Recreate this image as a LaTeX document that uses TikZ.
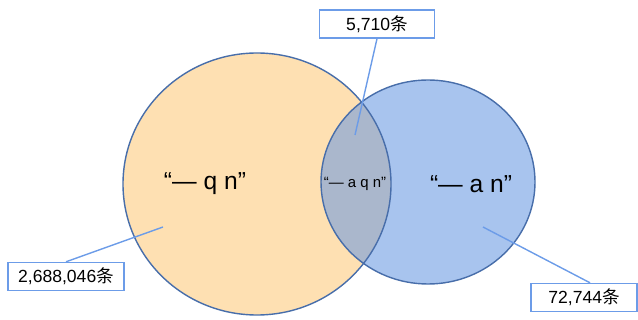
\documentclass[tikz,border=0pt]{standalone}
\usepackage{fontspec}
\setmainfont{Liberation Sans}
\newfontfamily\cjk{Noto Sans CJK SC}
\usepackage{xcolor}
\usetikzlibrary{positioning}
\definecolor{qnfill}{RGB}{254,224,178}
\definecolor{anfill}{RGB}{168,196,238}
\definecolor{bothfill}{RGB}{170,183,204}
\definecolor{rim}{RGB}{72,110,170}
\definecolor{callout}{RGB}{108,156,232}
\tikzset{
    countbox/.style={draw=callout, line width=0.8pt, fill=white, inner sep=0pt,
        minimum height=0.56cm, font=\fontsize{10}{12}\selectfont},
    bigtag/.style={font=\fontsize{14}{16}\selectfont},
}

\begin{document}
\begin{tikzpicture}[x=0.02cm, y=-0.02cm]
    \useasboundingbox (0,0) rectangle (638,320);
    % the two sets
    \fill[qnfill] (257,184) ellipse [x radius=134, y radius=131];
    \fill[anfill] (428,182) ellipse [x radius=107, y radius=102];
    \begin{scope}
        \clip (257,184) ellipse [x radius=134, y radius=131];
        \fill[bothfill] (428,182) ellipse [x radius=107, y radius=102];
    \end{scope}
    \draw[rim, line width=0.8pt] (257,184) ellipse [x radius=134, y radius=131];
    \draw[rim, line width=0.8pt] (428,182) ellipse [x radius=107, y radius=102];

    \node[bigtag] (qn) at (205,184) {“— q n”};
    \node[bigtag] (an) at (471,184) {“— a n”};
    \node[font=\fontsize{8.5}{10}\selectfont] (aqn) at (355,184) {“— a q n”};

    % counts
    \node[countbox, minimum width=2.3cm] (aqnbox) at (377,24) {5,710{\cjk 条}};
    \node[countbox, minimum width=2.32cm] (qnbox) at (66,276.5) {2,688,046{\cjk 条}};
    \node[countbox, minimum width=2.12cm] (anbox) at (584,297.5) {72,744{\cjk 条}};

    \coordinate (aqnpt) at (355,135);
    \coordinate (qnpt) at (163,227);
    \coordinate (anpt) at (483,227);
    \draw[callout, line width=0.8pt] (aqnbox.south) -- (aqnpt);
    \draw[callout, line width=0.8pt] (qnbox.north) -- (qnpt);
    \draw[callout, line width=0.8pt] ([xshift=0.12cm]anbox.north) -- (anpt);
\end{tikzpicture}
\end{document}
